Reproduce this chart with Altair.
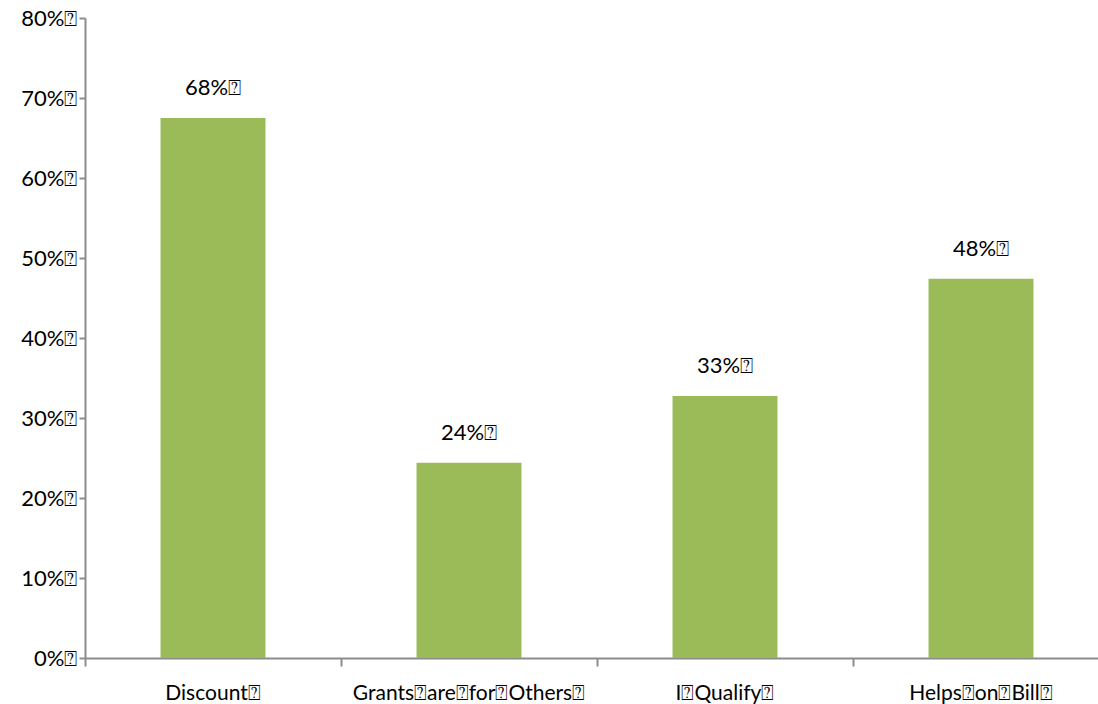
import altair as alt
import pandas as pd

categories = ["Discount⍰", "Grants⍰are⍰for⍰Others⍰", "I⍰Qualify⍰", "Helps⍰on⍰Bill⍰"]
values = [0.675, 0.244, 0.3275, 0.474]
labels = ["68%⍰", "24%⍰", "33%⍰", "48%⍰"]

df = pd.DataFrame({"cat": categories, "val": values, "lab": labels})

FONT = "Lato, DejaVu Sans, sans-serif"
FS = 21
FSY = 22

x = alt.X("cat:N", sort=categories, title=None,
          scale=alt.Scale(range=[0, 1024], paddingInner=0, paddingOuter=0),
          axis=alt.Axis(labelAngle=0, labelFontSize=FS, labelFont=FONT, labelColor="black",
                        labelLimit=0,
                        domainColor="#8c8c8c", domainWidth=2, tickColor="#8c8c8c", tickWidth=2,
                        tickSize=8, bandPosition=0, labelPadding=16, labelBaseline="top"))

y = alt.Y("val:Q", title=None,
          scale=alt.Scale(domain=[0, 0.8], nice=False),
          axis=alt.Axis(format=".0%", values=[0, 0.1, 0.2, 0.3, 0.4, 0.5, 0.6, 0.7, 0.8],
                        labelExpr="datum.label + '⍰'",
                        labelFontSize=FSY, labelFont=FONT, labelColor="black",
                        domainColor="#8c8c8c", domainWidth=2, tickColor="#8c8c8c", tickWidth=2,
                        tickSize=6, labelPadding=2, grid=False))

bars = alt.Chart(df).mark_bar(color="#9BBB59", width={"band": 0.41}).encode(x=x, y=y)
text = alt.Chart(df).mark_text(fontSize=FSY, font=FONT, color="black", dy=-30,
                               baseline="middle").encode(x=x, y="val:Q", text="lab:N")

chart = (bars + text).properties(
    width=1013, height=640,
    background="white",
    autosize=alt.AutoSizeParams(type="none"),
    padding={"left": 85, "top": 18, "right": 0, "bottom": 46},
).configure_view(strokeWidth=0, stroke="transparent")

chart.save("out.html", embed_options={"renderer": "svg", "actions": False})
